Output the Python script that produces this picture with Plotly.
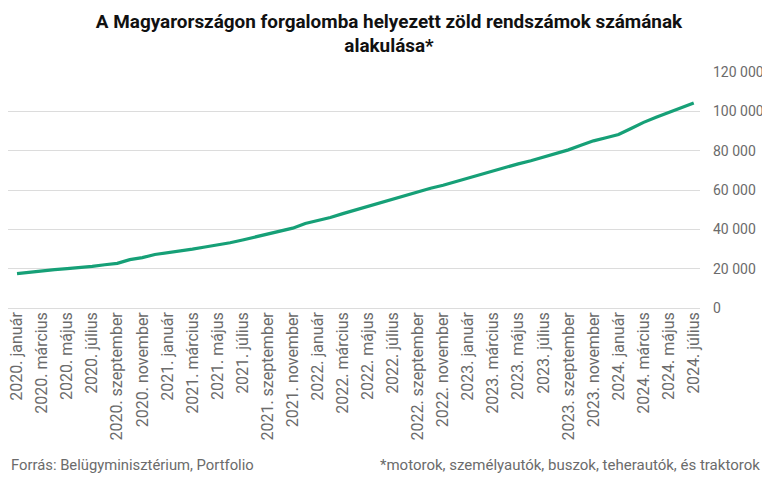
import plotly.graph_objects as go

MONTHS = ["január", "február", "március", "április", "május", "június",
          "július", "augusztus", "szeptember", "október", "november", "december"]

# 2020. január .. 2024. július, monthly
periods = [f"{y}. {m}" for y in range(2020, 2025) for m in MONTHS][:55]

# number of green plates in circulation
plates = [
    17500, 18300, 19000, 19500, 20000, 20500, 21200, 22000, 22700, 24600,
    25600, 27200, 28000, 28900, 29900, 31000, 32000, 33200, 34600, 36000,
    37400, 39000, 40600, 43000, 44400, 46000, 48000, 49900, 51800, 53600,
    55500, 57300, 59200, 60900, 62400, 64200, 66000, 67800, 70000, 71600,
    73300, 74900, 76600, 78500, 80400, 82700, 85000, 86600, 88200, 91300,
    94400, 97000, 99300, 101900, 104200,
]

tick_labels = periods[::2]

GREEN = "#16a077"
GRID = "#dcdcdc"
TEXT = "#6b6b6b"

fig = go.Figure()
fig.add_trace(go.Scatter(
    x=periods, y=plates,
    mode="lines",
    line=dict(color=GREEN, width=3.2),
    hoverinfo="x+y",
))

# page body adds an 8px margin, so the figure is 8px smaller than the window
fig.update_layout(
    width=762, height=470,
    template="simple_white",
    showlegend=False,
    separators=", ",
    font=dict(family="Roboto, sans-serif", size=14, color=TEXT),
    title=dict(
        text="<b>A Magyarországon forgalomba helyezett zöld rendszámok számának<br>alakulása*</b>",
        x=0.5, xanchor="center", y=0.958, yanchor="top",
        font=dict(family="Roboto, sans-serif", size=18.9, color="#111111"),
    ),
    margin=dict(l=0, r=70, t=64, b=170),
    plot_bgcolor="white",
    paper_bgcolor="white",
    annotations=[
        dict(text="Forrás: Belügyminisztérium, Portfolio", xref="paper", yref="paper",
             x=0.0, y=-0.665, xanchor="left", yanchor="middle", showarrow=False,
             xshift=1, font=dict(size=14.8, color=TEXT)),
        dict(text="*motorok, személyautók, buszok, teherautók, és traktorok",
             xref="paper", yref="paper", x=1.0, y=-0.665, xanchor="right",
             yanchor="middle", showarrow=False, xshift=62,
             font=dict(size=15, color=TEXT)),
    ],
)

fig.update_xaxes(
    type="category",
    automargin=False,
    range=[-0.72, len(periods) - 0.5],
    tickmode="array", tickvals=tick_labels, ticktext=tick_labels,
    tickangle=-90,
    showline=False, ticks="", showgrid=False,
    tickfont=dict(size=16, color=TEXT),
)
fig.update_yaxes(
    side="right",
    automargin=False,
    range=[0, 120000],
    dtick=20000,
    tickformat=",d",
    showline=False,
    ticks="", ticklabelstandoff=12,
    showgrid=True, gridcolor=GRID, gridwidth=1,
    zeroline=True, zerolinecolor=GRID, zerolinewidth=1,
    tickfont=dict(size=14, color=TEXT),
)

fig.write_html("out.html")
